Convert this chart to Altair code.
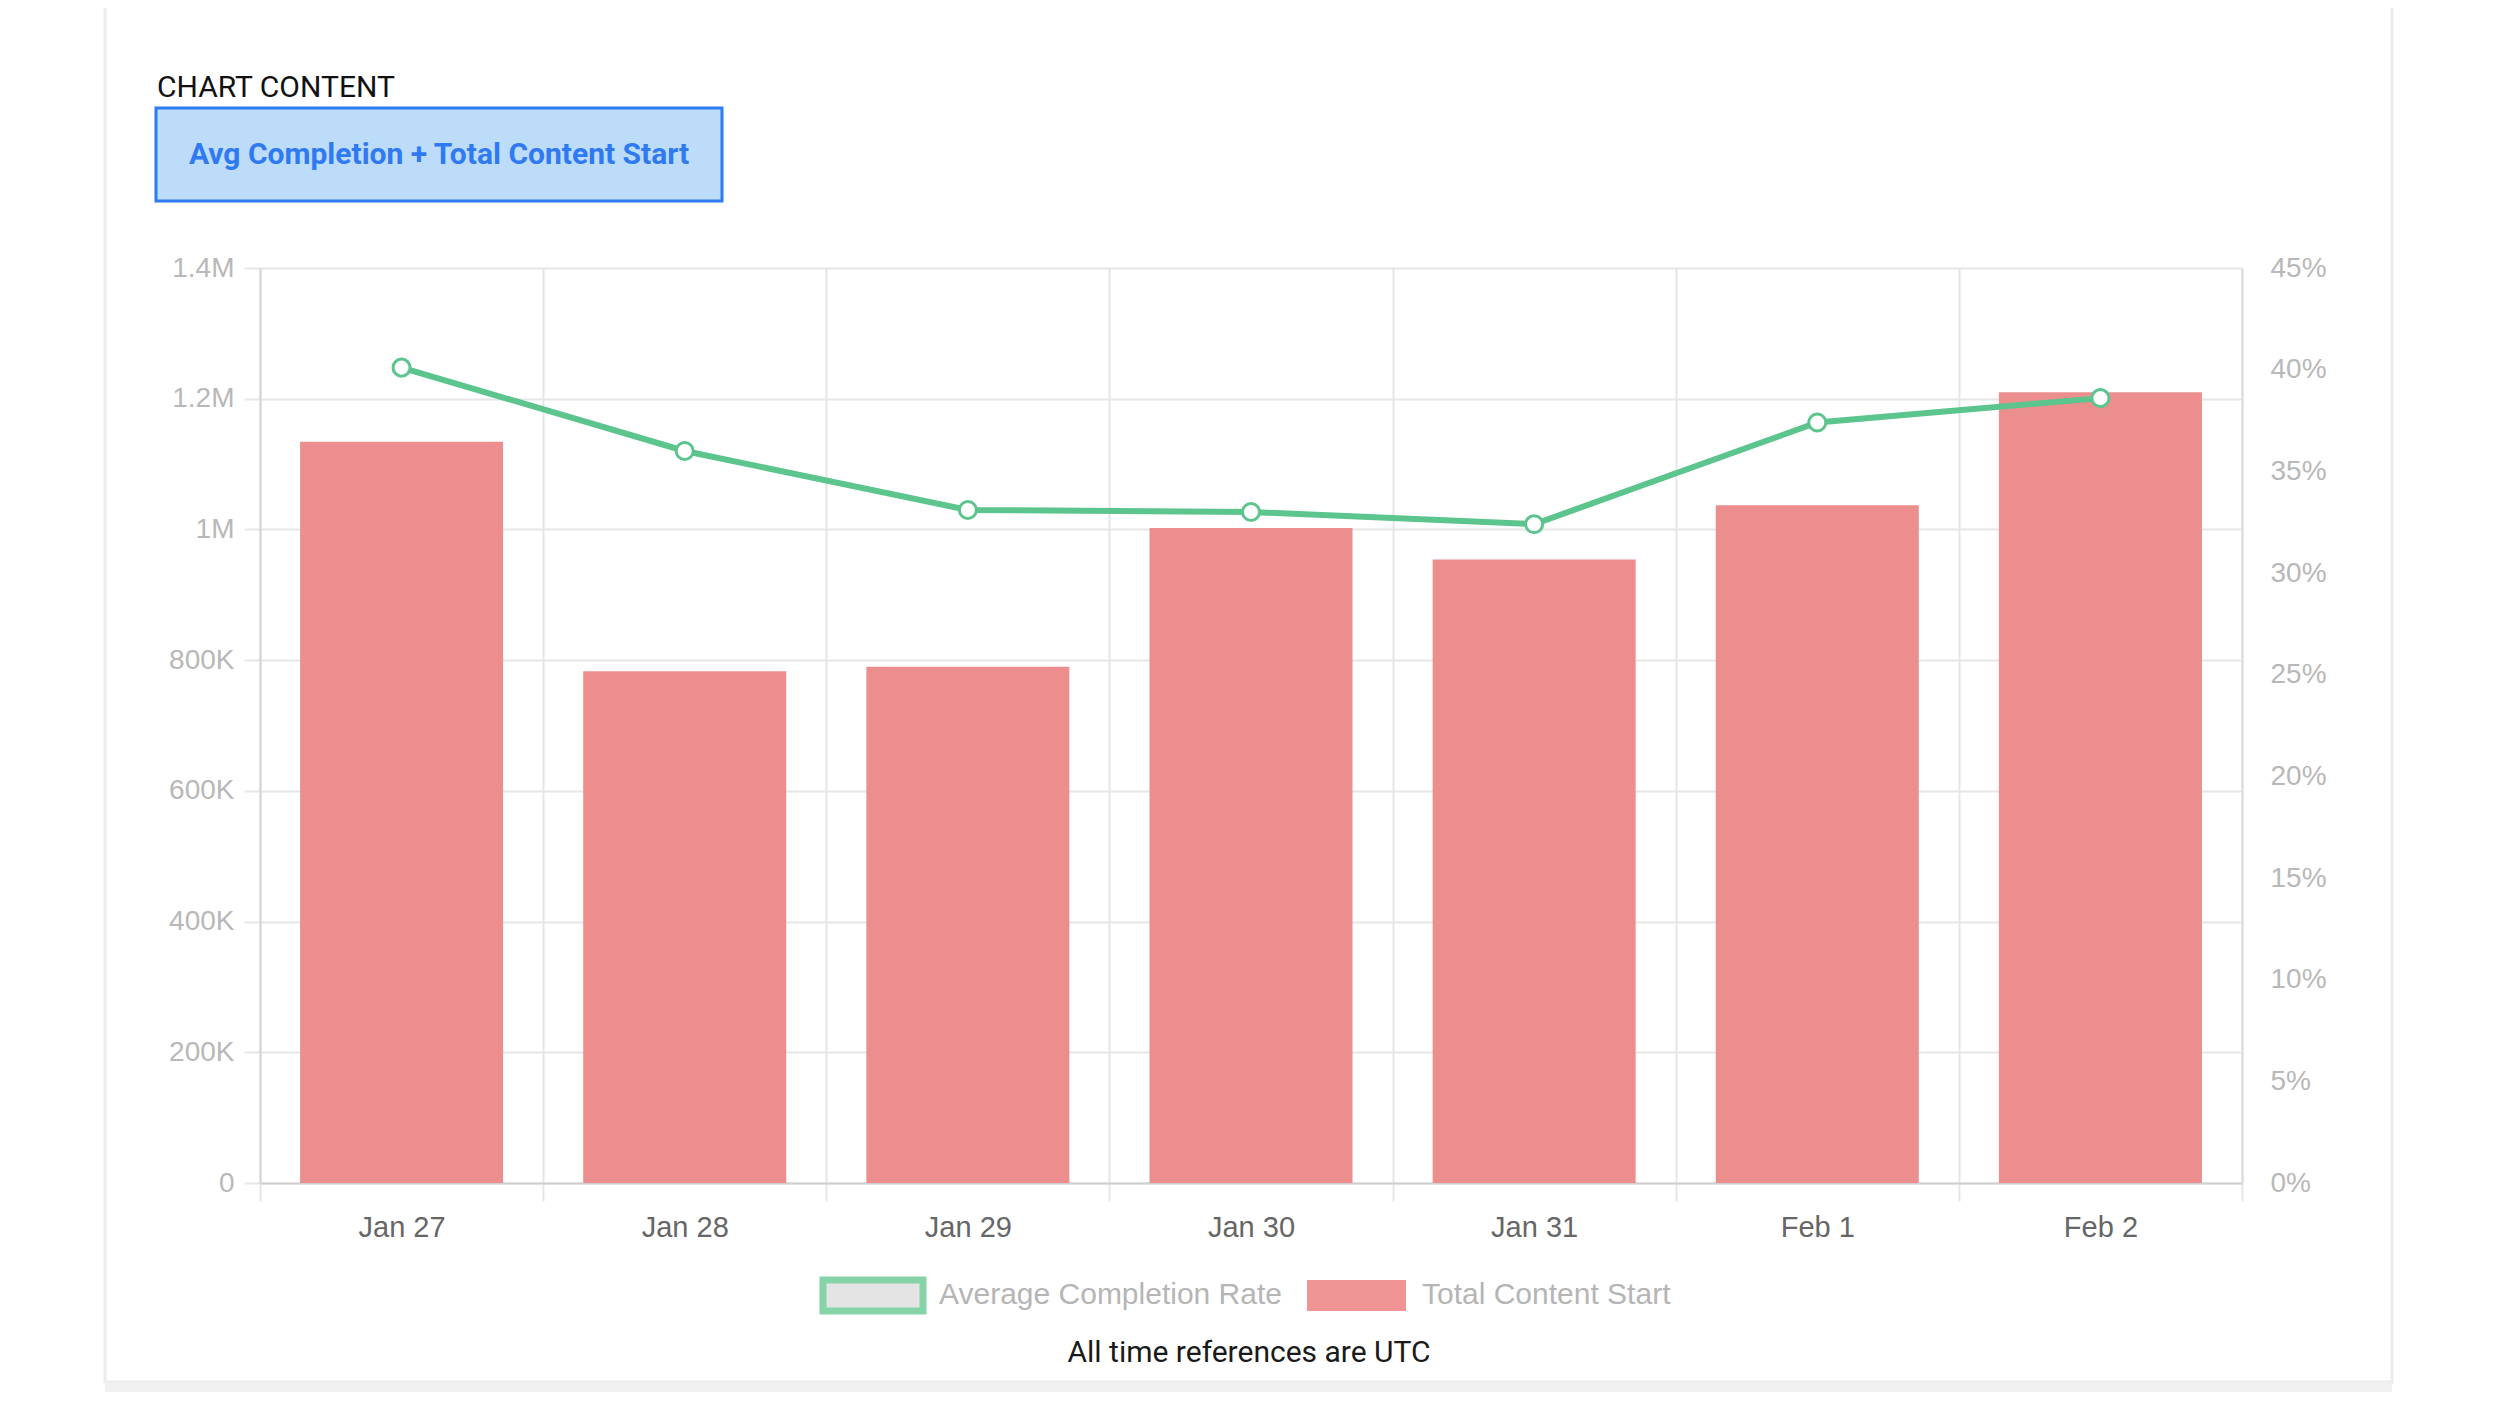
import altair as alt
import pandas as pd

# ---- data ----
dates = ["Jan 27", "Jan 28", "Jan 29", "Jan 30", "Jan 31", "Feb 1", "Feb 2"]
content_starts = [1134000, 783000, 790000, 1002000, 954000, 1037000, 1210000]
completion_rate = [40.1, 36.0, 33.1, 33.0, 32.4, 37.4, 38.6]
left_ticks = [0, 200000, 400000, 600000, 800000, 1000000, 1200000, 1400000]
right_ticks = [0, 5, 10, 15, 20, 25, 30, 35, 40, 45]

section_label = "CHART CONTENT"
button_label = "Avg Completion + Total Content Start"
legend_labels = ["Average Completion Rate", "Total Content Start"]
footer_label = "All time references are UTC"

df = pd.DataFrame({"date": dates, "starts": content_starts, "rate": completion_rate})
one = pd.DataFrame({"k": [0]})

GREEN = "#5cc48d"
RED = "#ed8e8e"
GRID = "#e6e6e6"

x_enc = alt.X(
    "date:N",
    sort=dates,
    scale=alt.Scale(paddingInner=0, paddingOuter=0),
    axis=alt.Axis(
        title=None, labelAngle=0, tickBand="extent", grid=True,
        gridColor=GRID, gridWidth=2, tickColor=GRID, tickWidth=2, tickSize=18,
        domainColor="#cfcfcf", domainWidth=2, labelPadding=12,
        labelFont="Liberation Sans", labelFontSize=29, labelColor="#666666",
    ),
)
x_plain = alt.X("date:N", sort=dates)

bars = alt.Chart(df).mark_bar(color=RED, width=alt.RelativeBandSize(0.717)).encode(
    x=x_enc,
    y=alt.Y(
        "starts:Q",
        scale=alt.Scale(domain=[0, 1400000], nice=False),
        axis=alt.Axis(
            title=None, values=left_ticks, grid=True, gridColor=GRID, gridWidth=2,
            tickColor=GRID, tickWidth=2, tickSize=16, labelPadding=10,
            domainColor="#d4d4d4", domainWidth=2,
            labelFont="Liberation Sans", labelFontSize=28, labelColor="#b8b8b8",
            labelExpr="datum.value == 0 ? '0' : (datum.value >= 1000000 ? format(datum.value/1000000, '~g') + 'M' : format(datum.value/1000, '~g') + 'K')",
        ),
    ),
)

y_right = alt.Y(
    "rate:Q",
    scale=alt.Scale(domain=[0, 45], nice=False),
    axis=alt.Axis(
        title=None, orient="right", values=right_ticks, grid=False, ticks=False,
        labelPadding=28, domainColor="#dcdcdc", domainWidth=2,
        labelFont="Liberation Sans", labelFontSize=28, labelColor="#b8b8b8",
        labelExpr="datum.value + '%'",
    ),
)

line = alt.Chart(df).mark_line(color=GREEN, strokeWidth=6).encode(x=x_plain, y=y_right)
points = alt.Chart(df).mark_point(
    filled=True, fill="white", stroke=GREEN, strokeWidth=3, size=290, opacity=1
).encode(x=x_plain, y=y_right)
right = alt.layer(line, points)

# ---- page decorations ----
card = alt.Chart(one).mark_rect(fill="white", fillOpacity=0, stroke="#ececec", strokeWidth=3).encode(
    x=alt.value(-155), x2=alt.value(2132), y=alt.value(-300), y2=alt.value(1114)
)
card_band = alt.Chart(one).mark_rect(fill="#f0f0f0").encode(
    x=alt.value(-155), x2=alt.value(2132), y=alt.value(1114), y2=alt.value(1126)
)
section = alt.Chart(one).mark_text(
    text=section_label, align="left", baseline="middle", font="Roboto", fontSize=30, color="#111111"
).encode(x=alt.value(-103), y=alt.value(-180))
button_box = alt.Chart(one).mark_rect(fill="#bcdcfa", stroke="#2f7bf2", strokeWidth=3).encode(
    x=alt.value(-104), x2=alt.value(462), y=alt.value(-160), y2=alt.value(-67)
)
button_text = alt.Chart(one).mark_text(
    text=button_label, align="center", baseline="middle", font="Roboto", fontWeight="bold",
    fontSize=30, color="#2f7af2"
).encode(x=alt.value(179), y=alt.value(-113))
leg_green = alt.Chart(one).mark_rect(fill="#e4e4e4", stroke="#86d3a8", strokeWidth=7).encode(
    x=alt.value(563), x2=alt.value(663), y=alt.value(1012), y2=alt.value(1043)
)
leg_red = alt.Chart(one).mark_rect(fill="#ef9595").encode(
    x=alt.value(1047), x2=alt.value(1146), y=alt.value(1012), y2=alt.value(1043)
)
leg_t1 = alt.Chart(one).mark_text(
    text=legend_labels[0], align="left", baseline="middle", font="Liberation Sans", fontSize=30, color="#b5b5b5"
).encode(x=alt.value(679), y=alt.value(1027))
leg_t2 = alt.Chart(one).mark_text(
    text=legend_labels[1], align="left", baseline="middle", font="Liberation Sans", fontSize=30, color="#b5b5b5"
).encode(x=alt.value(1162), y=alt.value(1027))
footer = alt.Chart(one).mark_text(
    text=footer_label, align="center", baseline="middle", font="Roboto", fontSize=30, color="#1a1a1a"
).encode(x=alt.value(989), y=alt.value(1085))

chart = alt.layer(
    card, card_band, section, button_box, button_text,
    leg_green, leg_red, leg_t1, leg_t2, footer,
    bars, right,
).resolve_scale(y="independent").properties(
    width=1982, height=915,
    autosize=alt.AutoSizeParams(type="none"),
    padding={"left": 252, "top": 260, "right": 200, "bottom": 209},
).configure_view(stroke=None)

chart.save("out.html", embed_options={"renderer": "svg", "actions": False})
